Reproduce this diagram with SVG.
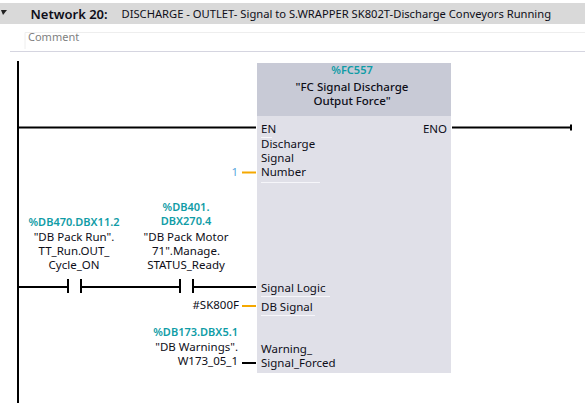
<svg xmlns="http://www.w3.org/2000/svg" width="585" height="403" viewBox="0 0 585 403">
<style>
text{font-family:"Noto Sans","Open Sans","Liberation Sans",sans-serif;font-size:11.500px;fill:#0e0e18}
.c{text-anchor:middle}
.e{text-anchor:end}
.a{fill:#0f9ca6;font-weight:600;font-size:11px}
.w{stroke:#000;stroke-width:2;fill:none}
.o{stroke:#f5a800;stroke-width:2;fill:none}
.u{stroke:#f6f6fa;stroke-width:1;fill:none}
</style>
<rect x="0" y="0" width="585" height="403" fill="#fff"/>
<g id="header">
<rect x="0" y="3" width="585" height="21" fill="#d9d9d9"/>
<path d="M1 10h6l-4 5z" fill="#222"/>
<text x="30.500" y="18.500" style="font-size:13px;font-weight:600">Network 20:</text>
<text x="121.500" y="17.500" style="font-size:11.200px">DISCHARGE - OUTLET- Signal to S.WRAPPER SK802T-Discharge Conveyors Running</text>
</g>
<g id="comment">
<path d="M25 49V32.500H585" stroke="#eeeeee" fill="none"/>
<path d="M10 51.500H585" stroke="#d5d5e0" fill="none"/>
<text x="28" y="41" style="fill:#7f7f7f;font-size:11px">Comment</text>
</g>
<g id="connectors">
<path class="w" d="M18 61V403"/>
<path class="w" d="M18 127.500H256"/>
<path class="w" d="M452 127.500H571M571 124.500V130.500"/>
<path class="w" d="M18 287H68M81 287H180M193 287H256"/>
<path class="w" d="M68 279V293M81 279V293M180 279V293M193 279V293"/>
<path class="o" d="M242 172.500H256"/>
<path class="o" d="M242 306H256"/>
<path class="w" d="M242 363H256"/>
</g>
<g id="block-FC557">
<rect x="257" y="63" width="194" height="310" fill="#e0e0e8"/>
<rect x="257" y="63" width="194" height="53" fill="#c8cad6"/>
<text class="c a" x="352" y="74">%FC557</text>
<text class="c" x="352" y="91" style="font-weight:500">"FC Signal Discharge</text>
<text class="c" x="352" y="105" style="font-weight:500">Output Force"</text>
<text x="261" y="133">EN</text>
<text class="e" x="447" y="133">ENO</text>
<text x="261" y="148">Discharge</text>
<text x="261" y="162">Signal</text>
<text x="261" y="176">Number</text>
<text x="261" y="292">Signal Logic</text>
<text x="261" y="311">DB Signal</text>
<text x="261" y="353">Warning_</text>
<text x="261" y="367">Signal_Forced</text>
<path class="u" d="M261 137.500H272M261 182.500H320M261 296.500H330M261 315.500H315"/>
</g>
<g id="operand-1"><text class="e" x="238" y="176" style="fill:#58a6dc">1</text></g>
<g id="contact-DB470">
<text class="c a" x="74" y="226">%DB470.DBX11.2</text>
<text class="c" x="74" y="241">"DB Pack Run".</text>
<text class="c" x="74" y="255">TT_Run.OUT_</text>
<text class="c" x="74" y="269">Cycle_ON</text>
</g>
<g id="contact-DB401">
<text class="c a" x="186" y="211">%DB401.</text>
<text class="c a" x="186" y="225">DBX270.4</text>
<text class="c" x="186" y="241">"DB Pack Motor</text>
<text class="c" x="186" y="255">71".Manage.</text>
<text class="c" x="186" y="269">STATUS_Ready</text>
</g>
<g id="operand-SK800F"><text class="e" x="239" y="309">#SK800F</text></g>
<g id="operand-DB173">
<text class="e a" x="238" y="336">%DB173.DBX5.1</text>
<text class="e" x="238" y="351">"DB Warnings".</text>
<text class="e" x="238" y="365">W173_05_1</text>
</g>
</svg>
